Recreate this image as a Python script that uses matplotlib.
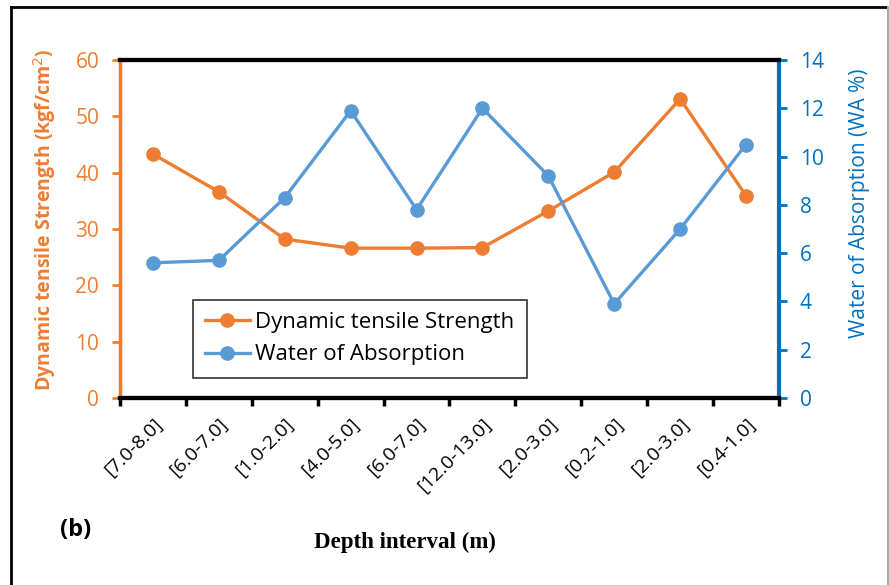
import matplotlib
matplotlib.use("Agg")
import matplotlib.pyplot as plt
from matplotlib.lines import Line2D
import matplotlib.transforms as mtrans
import numpy as np

categories = ["[7.0-8.0]", "[6.0-7.0]", "[1.0-2.0]", "[4.0-5.0]", "[6.0-7.0]",
              "[12.0-13.0]", "[2.0-3.0]", "[0.2-1.0]", "[2.0-3.0]", "[0.4-1.0]"]
strength = [43.3, 36.6, 28.2, 26.6, 26.6, 26.7, 33.2, 40.1, 53.1, 35.9]
absorption = [5.6, 5.7, 8.3, 11.9, 7.8, 12.0, 9.2, 3.9, 7.0, 10.5]

ORANGE = "#ED7D31"
BLUE = "#5B9BD5"
DBLUE = "#0070C0"
font = "Open Sans"

fig = plt.figure(figsize=(8.89, 5.85), dpi=100)
ax = fig.add_axes([120/889, 1-398/585, (779-120)/889, (398-60)/585])
ax2 = ax.twinx()

x = np.arange(len(categories))
l1, = ax.plot(x, strength, color=ORANGE, lw=2.4, marker="o", ms=9.5, label="Dynamic tensile Strength", zorder=3)
l2, = ax2.plot(x, absorption, color=BLUE, lw=2.4, marker="o", ms=9.5, label="Water of Absorption", zorder=3)

ax.set_xlim(-0.5, len(categories) - 0.5)
ax.set_ylim(0, 60)
ax2.set_ylim(0, 14)
ax.set_yticks(np.arange(0, 61, 10))
ax2.set_yticks(np.arange(0, 15, 2))

ax.set_xticks(np.arange(-0.5, len(categories), 1.0))
ax.set_xticklabels([])
ax.set_xticks(x, minor=True)
ax.set_xticklabels(categories, minor=True, rotation=45, ha="right", va="top",
                   rotation_mode="anchor", fontsize=14, family=font)
off = mtrans.ScaledTranslation(-7/100, 0, fig.dpi_scale_trans)
for lab in ax.get_xticklabels(minor=True):
    lab.set_transform(lab.get_transform() + off)
ax.tick_params(axis="x", which="major", direction="out", length=6, width=2.5, color="black")
ax.tick_params(axis="x", which="minor", length=0, pad=12)

ax.tick_params(axis="y", direction="out", length=6, width=2, colors=ORANGE, labelsize=15, pad=9)
ax2.tick_params(axis="y", direction="out", length=6, width=2, colors=DBLUE, labelsize=15, pad=9)
for lab in ax.get_yticklabels() + ax2.get_yticklabels():
    lab.set_family(font)

for a in (ax, ax2):
    a.spines["top"].set_linewidth(3)
    a.spines["bottom"].set_linewidth(3)
    a.spines["top"].set_color("black")
    a.spines["bottom"].set_color("black")
ax.spines["left"].set_color(ORANGE)
ax.spines["left"].set_linewidth(2.5)
ax2.spines["left"].set_visible(False)
ax2.spines["right"].set_color(DBLUE)
ax2.spines["right"].set_linewidth(3)
ax.spines["right"].set_visible(False)

ax.set_ylabel("Dynamic tensile Strength (kgf/cm$^{2}$)", color=ORANGE, fontsize=14,
              fontweight="bold", family=font)
ax.yaxis.set_label_coords(-62/659, 0.527)
ax2.set_ylabel("Water of Absorption (WA %)", color=DBLUE, fontsize=15, family=font)
ax2.yaxis.set_label_coords(1 + 70/659, 0.577)
ax.set_xlabel("Depth interval (m)", fontsize=16.5, fontweight="bold", family="Liberation Serif")
ax.xaxis.set_label_coords((405-120)/659, (398-532)/338)

leg = fig.legend(handles=[l1, l2], loc="upper left", bbox_to_anchor=(193/889, 1-300/585),
                 frameon=True, fancybox=False, edgecolor="black",
                 prop={"family": font, "size": 16}, handlelength=2.0, borderaxespad=0,
                 handletextpad=0.25, labelspacing=0.5, borderpad=0.55)
leg.get_frame().set_linewidth(1.2)

fig.text(60/889, 1-530/585, "(b)", fontsize=17, fontweight="bold", family=font, va="center")

# outer frame (left, top, right)
fig.add_artist(Line2D([11/889, 11/889], [0, 1-7/585], transform=fig.transFigure, color="black", lw=2))
fig.add_artist(Line2D([11/889, 888/889], [1-7/585, 1-7/585], transform=fig.transFigure, color="black", lw=2))
fig.add_artist(Line2D([887.5/889, 887.5/889], [0, 1-7/585], transform=fig.transFigure, color="#aaaaaa", lw=1.5))

fig.savefig("out.png", dpi=100)
